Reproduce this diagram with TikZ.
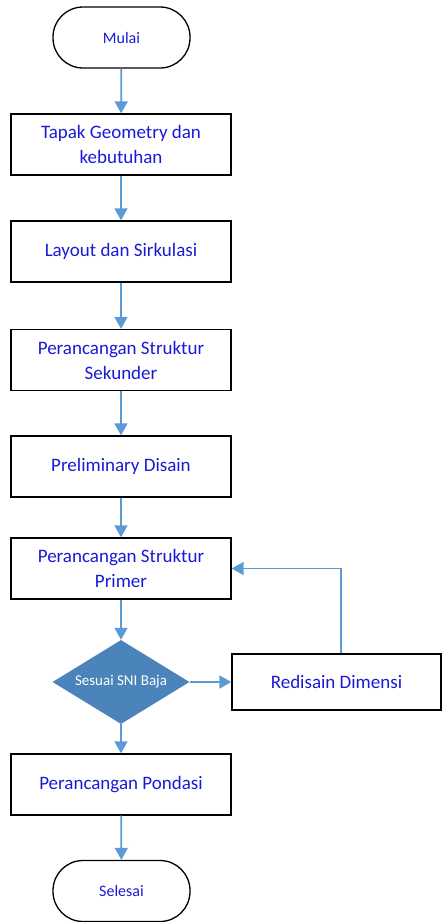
\documentclass[tikz,border=0pt]{standalone}
\usepackage{fontspec}
\setmainfont{Carlito}
\usepackage{tikz}
\usetikzlibrary{shapes.geometric,arrows.meta}
\definecolor{garis}{HTML}{5B9BD5}
\definecolor{teks}{HTML}{1A1AD6}
\definecolor{isian}{HTML}{4A84BA}

\begin{document}
\begin{tikzpicture}[x=1pt,y=-1pt,
        proses/.style={rectangle, draw, line width=1.3pt, align=center, minimum width=220pt, minimum height=61pt, text=teks, font=\fontsize{19}{25}\selectfont},
        terminal/.style={rectangle, draw, line width=1.3pt, rounded corners=30pt, minimum width=137pt, minimum height=61pt, text=teks, font=\fontsize{16}{19}\selectfont},
        keputusan/.style={diamond, fill=isian, aspect=1.63, inner sep=0pt, minimum width=137pt, minimum height=84pt, text=white, font=\fontsize{15}{18}\selectfont},
        panah/.style={-{Triangle[length=12pt,width=13pt]}, garis, line width=1.8pt}
        ]
        \useasboundingbox (0,0) rectangle (442,922);
        % Nodos principales
        \node[terminal] (mulai) at (121.5,37.5) {Mulai};
        \node[proses] (tapak) at (121,144.5) {Tapak Geometry dan\\kebutuhan};
        \node[proses] (layout) at (121,251.5) {Layout dan Sirkulasi};
        \node[proses] (sekunder) at (121,360) {Perancangan Struktur\\Sekunder};
        \node[proses] (prelim) at (121,466.5) {Preliminary Disain};
        \node[proses] (primer) at (121,568.5) {Perancangan Struktur\\Primer};
        \node[keputusan] (cek) at (121,682) {Sesuai SNI Baja};
        \node[proses, minimum width=209pt, minimum height=56pt] (redisain) at (336.5,682) {Redisain Dimensi};
        \node[proses] (pondasi) at (121,784.5) {Perancangan Pondasi};
        \node[terminal] (selesai) at (121.5,891) {Selesai};

        % Conexiones
        \draw[panah] (mulai) -- (tapak);
        \draw[panah] (tapak) -- (layout);
        \draw[panah] (layout) -- (sekunder);
        \draw[panah] (sekunder) -- (prelim);
        \draw[panah] (prelim) -- (primer);
        \draw[panah] (primer) -- (cek);
        \draw[panah] (cek) -- (redisain);
        \draw[panah] ([xshift=4.5pt]redisain.north) |- (primer.east);
        \draw[panah] (cek) -- (pondasi);
        \draw[panah] (pondasi) -- (selesai);
\end{tikzpicture}
\end{document}
